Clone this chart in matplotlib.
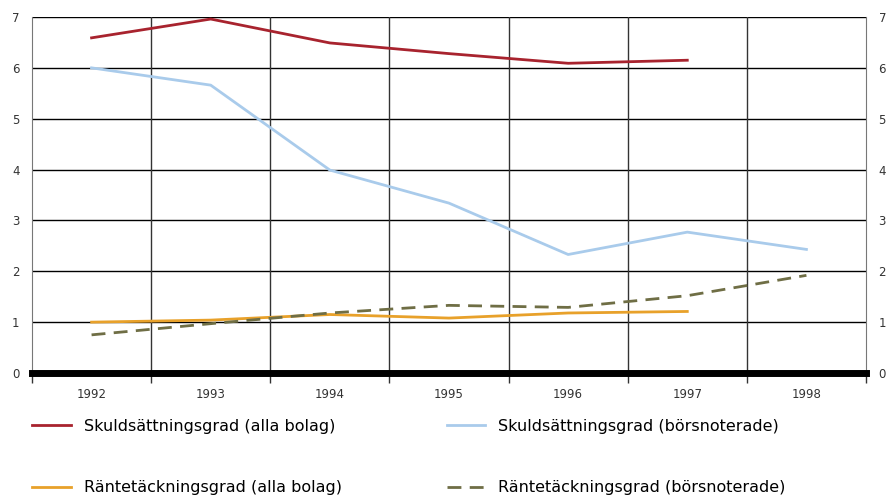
import numpy as np
import matplotlib.pyplot as plt

years = ['1992', '1993', '1994', '1995', '1996', '1997', '1998']
skuld_alla = [6.59, 6.96, 6.49, 6.28, 6.09, 6.15]
skuld_bors = [6.0, 5.66, 3.99, 3.34, 2.33, 2.77, 2.43]
rante_alla = [1.0, 1.04, 1.15, 1.08, 1.18, 1.21]
rante_bors = [0.75, 0.97, 1.18, 1.33, 1.29, 1.52, 1.92]

plt.rcParams['font.family'] = ['DejaVu Sans']

fig = plt.figure(figsize=(8.9, 5), dpi=100)
ax = fig.add_axes([32 / 890, 127 / 500, 834 / 890, 356 / 500])

x = np.arange(len(years))
ax.set_xlim(-0.5, len(years) - 0.5)
ax.set_ylim(0, 7)

# grid: horizontal black, vertical at category boundaries
for yv in range(1, 8):
    ax.axhline(yv, color='black', lw=1.0, zorder=1)
for xv in np.arange(0.5, len(years) - 0.5, 1):
    ax.axvline(xv, color='#333333', lw=1.0, zorder=1)
ax.axhline(0, color='black', lw=5, zorder=4, clip_on=False)

l1, = ax.plot(x[:len(skuld_alla)], skuld_alla, color='#a8232e', lw=2.0, zorder=3)
l2, = ax.plot(x, skuld_bors, color='#a9cbeb', lw=2.0, zorder=3)
l3, = ax.plot(x[:len(rante_alla)], rante_alla, color='#e8a12a', lw=2.0, zorder=3)
l4, = ax.plot(x, rante_bors, color='#6f6e45', lw=2.0, ls=(0, (5, 3)), zorder=3)

for s in ['top', 'bottom']:
    ax.spines[s].set_visible(False)
ax.spines['left'].set_color('#777777')
ax.spines['right'].set_color('#777777')

ax.set_yticks(range(0, 8))
ax.tick_params(axis='y', length=0, labelsize=8.5, colors='#333333', pad=9,
               labelright=True, right=False)
ax.set_xticks(x)
ax.set_xticklabels(years)
ax.tick_params(axis='x', length=0, labelsize=8.5, colors='#333333', pad=11)
ax.set_xticks(np.arange(-0.5, len(years), 1), minor=True)
ax.tick_params(axis='x', which='minor', length=7, width=1, color='#333333', direction='out')

handles = [l1, l3, l2, l4]
labels = ['Skuldsättningsgrad (alla bolag)', 'Räntetäckningsgrad (alla bolag)',
          'Skuldsättningsgrad (börsnoterade)', 'Räntetäckningsgrad (börsnoterade)']
fig.legend(handles, labels, ncol=2, loc='upper left', bbox_to_anchor=(0.029, 0.175),
           frameon=False, fontsize=11.5, handlelength=2.4, handletextpad=0.82,
           columnspacing=6.6, labelspacing=2.9, borderaxespad=0)

fig.savefig('out.png', dpi=100)
